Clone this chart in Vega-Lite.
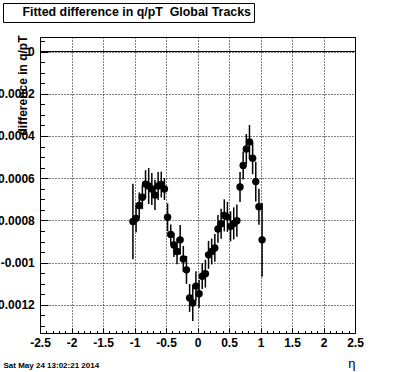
{
  "$schema": "https://vega.github.io/schema/vega-lite/v6.json",
  "autosize": "none",
  "padding": {"left": 40, "top": 37, "right": 41, "bottom": 39},
  "width": 315,
  "height": 296,
  "background": "white",
  "config": {
    "font": "Liberation Sans",
    "view": {"stroke": "black", "strokeWidth": 1},
    "axis": {"tickColor": "black", "labelColor": "black", "titleColor": "black", "tickWidth": 1, "domain": false, "labelFont": "Liberation Sans", "titleFont": "Liberation Sans"}
  },
  "data": {
    "values": [
      {"eta": -1.025, "val": -0.000805, "err": 0.000179},
      {"eta": -0.975, "val": -0.000790, "err": 0.000066},
      {"eta": -0.925, "val": -0.000729, "err": 0.000061},
      {"eta": -0.875, "val": -0.000690, "err": 0.000057},
      {"eta": -0.825, "val": -0.000628, "err": 0.000066},
      {"eta": -0.775, "val": -0.000637, "err": 0.000085},
      {"eta": -0.725, "val": -0.000651, "err": 0.000076},
      {"eta": -0.675, "val": -0.000680, "err": 0.000071},
      {"eta": -0.625, "val": -0.000637, "err": 0.000066},
      {"eta": -0.575, "val": -0.000630, "err": 0.000061},
      {"eta": -0.525, "val": -0.000651, "err": 0.000052},
      {"eta": -0.475, "val": -0.000785, "err": 0.000066},
      {"eta": -0.425, "val": -0.000866, "err": 0.000047},
      {"eta": -0.375, "val": -0.000916, "err": 0.000057},
      {"eta": -0.325, "val": -0.000947, "err": 0.000061},
      {"eta": -0.275, "val": -0.000892, "err": 0.000071},
      {"eta": -0.225, "val": -0.000982, "err": 0.000061},
      {"eta": -0.175, "val": -0.001034, "err": 0.000066},
      {"eta": -0.125, "val": -0.001167, "err": 0.000066},
      {"eta": -0.075, "val": -0.001191, "err": 0.000085},
      {"eta": -0.025, "val": -0.001111, "err": 0.000071},
      {"eta": 0.025, "val": -0.001147, "err": 0.000066},
      {"eta": 0.075, "val": -0.001064, "err": 0.000061},
      {"eta": 0.125, "val": -0.001052, "err": 0.000066},
      {"eta": 0.175, "val": -0.000963, "err": 0.000066},
      {"eta": 0.225, "val": -0.000947, "err": 0.000061},
      {"eta": 0.275, "val": -0.000930, "err": 0.000066},
      {"eta": 0.325, "val": -0.000840, "err": 0.000066},
      {"eta": 0.375, "val": -0.000816, "err": 0.000071},
      {"eta": 0.425, "val": -0.000776, "err": 0.000076},
      {"eta": 0.475, "val": -0.000783, "err": 0.000071},
      {"eta": 0.525, "val": -0.000828, "err": 0.000071},
      {"eta": 0.575, "val": -0.000814, "err": 0.000076},
      {"eta": 0.625, "val": -0.000801, "err": 0.000076},
      {"eta": 0.675, "val": -0.000642, "err": 0.000071},
      {"eta": 0.725, "val": -0.000540, "err": 0.000066},
      {"eta": 0.775, "val": -0.000462, "err": 0.000071},
      {"eta": 0.825, "val": -0.000428, "err": 0.000080},
      {"eta": 0.875, "val": -0.000505, "err": 0.000076},
      {"eta": 0.925, "val": -0.000616, "err": 0.000094},
      {"eta": 0.975, "val": -0.000735, "err": 0.000085},
      {"eta": 1.025, "val": -0.000892, "err": 0.000175}
    ]
  },
  "resolve": {"axis": {"x": "independent", "y": "independent"}},
  "layer": [
    {
      "mark": {"type": "rule", "color": "black", "strokeWidth": 1},
      "encoding": {
        "y": {"datum": 0, "type": "quantitative", "scale": {"domain": [-0.001333, 0.0000687], "nice": false, "zero": false}, "axis": null}
      }
    },
    {
      "mark": {"type": "errorbar", "ticks": false, "thickness": 1.5, "color": "black"},
      "encoding": {
        "x": {"field": "eta", "type": "quantitative", "scale": {"domain": [-2.5, 2.5], "nice": false, "zero": false},
          "axis": {"orient": "bottom", "title": "η", "titleAnchor": "end", "titleAlign": "right", "titleX": 315, "titleY": 34, "titleBaseline": "alphabetic", "titleFontSize": 13, "titleFontWeight": "normal",
            "values": [-2.5, -2, -1.5, -1, -0.5, 0, 0.5, 1, 1.5, 2, 2.5], "format": "~g", "labelExpr": "replace(datum.label, '\u2212', '-')",
            "labelFontSize": 12, "labelFontWeight": "bold", "labelPadding": 9, "labelOverlap": false, "labelFlush": false,
            "tickSize": -5, "grid": true, "gridColor": "black", "gridDash": [1, 2], "gridOpacity": 1, "gridWidth": 1}},
        "y": {"field": "val", "type": "quantitative", "scale": {"domain": [-0.001333, 0.0000687], "nice": false, "zero": false},
          "axis": {"orient": "left", "title": "difference in q/pT", "titleAnchor": "end", "titleAngle": -90, "titleX": -14, "titleY": -2, "titleAlign": "right", "titleBaseline": "alphabetic", "titleFontSize": 12, "titleFontWeight": "bold",
            "values": [-0.0012, -0.001, -0.0008, -0.0006, -0.0004, -0.0002, 0], "format": "~g", "labelExpr": "replace(datum.label, '\u2212', '-')",
            "labelFontSize": 12, "labelFontWeight": "bold", "labelPadding": 13.7, "labelOverlap": false, "labelFlush": false,
            "tickSize": -8, "grid": true, "gridColor": "black", "gridDash": [1, 2], "gridOpacity": 1, "gridWidth": 1}},
        "yError": {"field": "err"}
      }
    },
    {
      "mark": {"type": "circle", "size": 55, "opacity": 1},
      "encoding": {
        "x": {"field": "eta", "type": "quantitative", "scale": {"domain": [-2.5, 2.5], "nice": false, "zero": false},
          "axis": {"orient": "bottom", "title": "Sat May 24 13:02:21 2014", "titleAnchor": "start", "titleAlign": "left", "titleX": -37, "titleY": 34, "titleBaseline": "alphabetic", "titleFontSize": 8, "titleFontWeight": "bold",
            "labels": false, "grid": false, "tickSize": -2.5,
            "values": [-2.5, -2.4, -2.3, -2.2, -2.1, -2, -1.9, -1.8, -1.7, -1.6, -1.5, -1.4, -1.3, -1.2, -1.1, -1, -0.9, -0.8, -0.7, -0.6, -0.5, -0.4, -0.3, -0.2, -0.1, 0, 0.1, 0.2, 0.3, 0.4, 0.5, 0.6, 0.7, 0.8, 0.9, 1, 1.1, 1.2, 1.3, 1.4, 1.5, 1.6, 1.7, 1.8, 1.9, 2, 2.1, 2.2, 2.3, 2.4, 2.5]}},
        "y": {"field": "val", "type": "quantitative", "scale": {"domain": [-0.001333, 0.0000687], "nice": false, "zero": false},
          "axis": {"orient": "left", "title": null, "labels": false, "grid": false, "tickSize": -4.5,
            "values": [0.00005, 0, -0.00005, -0.0001, -0.00015, -0.0002, -0.00025, -0.0003, -0.00035, -0.0004, -0.00045, -0.0005, -0.00055, -0.0006, -0.00065, -0.0007, -0.00075, -0.0008, -0.00085, -0.0009, -0.00095, -0.001, -0.00105, -0.0011, -0.00115, -0.0012, -0.00125, -0.0013]}},
        "color": {"datum": "Fitted difference in q/pT\u00a0\u00a0Global Tracks", "type": "nominal", "scale": {"range": ["black"]},
          "legend": {"orient": "none", "legendX": -37, "legendY": -34, "title": null, "strokeColor": "black", "fillColor": "white", "padding": 3, "cornerRadius": 0,
            "labelFontSize": 12.4, "labelFontWeight": "bold", "labelFont": "Liberation Sans", "labelColor": "black", "labelLimit": 400, "labelOffset": 4,
            "symbolSize": 0, "symbolOpacity": 0, "symbolStrokeWidth": 0}}
      }
    }
  ]
}
